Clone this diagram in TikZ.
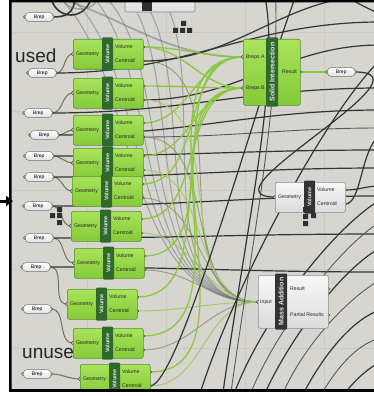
\documentclass[tikz,border=0pt]{standalone}
\usepackage{fontspec}
\setmainfont{Liberation Sans}
\usepackage{xcolor}
\usepackage{tikz}
\usetikzlibrary{arrows.meta, backgrounds}

\pgfdeclarelayer{canvas}
\pgfsetlayers{canvas,background,main}

\definecolor{canvasc}{HTML}{D6D5D0}
\definecolor{gridc}{HTML}{CBCAC4}
\definecolor{gtop}{HTML}{A8E35C}
\definecolor{gbot}{HTML}{84CA38}
\definecolor{gedge}{HTML}{5B8E2C}
\definecolor{gbarc}{HTML}{2F6A2C}
\definecolor{wirec}{HTML}{343434}
\definecolor{selc}{HTML}{8CC83F}
\definecolor{olivec}{HTML}{6E7452}

% volume component: name, x, y (top left), scheme g/w
\newcommand{\volcomp}[4]{%
  \begin{scope}[shift={(#2,#3)}]
    \coordinate (#1-in) at (0,15);
    \coordinate (#1-vol) at (70,8);
    \coordinate (#1-cen) at (70,22);
    \draw[grip] (#1-in) circle (1.8pt) (#1-vol) circle (1.8pt) (#1-cen) circle (1.8pt);
    \node[#4body, minimum width=70pt, minimum height=30pt, anchor=north west] (#1) at (0,0) {};
    \fill[#4bar, rounded corners=1pt] (29,-1.5) rectangle (40,31.5);
    \node[barlabel, rotate=90] (#1-lb) at (34.5,15) {Volume};
    \node[plabel] (#1-lg) at (14.5,15) {Geometry};
    \node[plabel, anchor=west] (#1-lv) at (42,8) {Volume};
    \node[plabel, anchor=west] (#1-lc) at (42,22) {Centroid};
  \end{scope}}

% brep parameter: name, left x, mid y
\newcommand{\brepparam}[3]{%
  \coordinate (#1-i) at (#2,#3);
  \coordinate (#1-o) at (#2+28,#3);
  \draw[grip] (#1-i) circle (1.6pt) (#1-o) circle (1.6pt);
  \node[brepbox, anchor=west] (#1) at (#2,#3) {Brep};}

\begin{document}
\begin{tikzpicture}[x=1pt, y=-1pt,
    grip/.style={draw=black!75, fill=canvasc, line width=0.5pt},
    gbody/.style={draw=gedge, line width=0.6pt, rounded corners=2pt, top color=gtop, bottom color=gbot},
    gbar/.style={fill=gbarc},
    wbody/.style={draw=black!45, line width=0.6pt, rounded corners=2pt, top color=white!97!black, bottom color=white!86!black},
    wbar/.style={fill=black!80},
    barlabel/.style={text=white!90!black, font=\fontsize{5.5}{6}\selectfont\bfseries, inner sep=0pt},
    plabel/.style={font=\fontsize{5.2}{6}\selectfont, text=black!85, inner sep=0pt},
    brepbox/.style={draw=black!55, line width=0.5pt, rounded corners=4pt, top color=white, bottom color=black!12,
      minimum width=28pt, minimum height=9pt, inner sep=0pt, font=\fontsize{5}{6}\selectfont},
    bigtext/.style={font=\fontsize{19}{22}\selectfont, text=black!85, inner sep=0pt},
    knob/.style={fill=black!82},
    gridline/.style={draw=gridc, line width=0.6pt},
    wire/.style={draw=wirec, line width=1.2pt},
    thinwire/.style={draw=black!65, line width=0.9pt},
    selwire/.style={draw=selc, line width=1.3pt},
    paleselwire/.style={draw=selc!70!canvasc, line width=1pt},
    mwire/.style={draw=olivec, line width=0.9pt, opacity=0.6},
    ghost/.style={draw=black!55, line width=1pt, opacity=0.55},
    shortwire/.style={draw=olivec, line width=1pt}]
\useasboundingbox (0,0) rectangle (374,396);

\begin{pgfonlayer}{canvas}
  \fill[white] (0,0) rectangle (374,396);
  \fill[canvasc] (11,2) rectangle (374,390);
  \draw[gridline] (87,2) -- (87,390) (166,2) -- (166,390) (245,2) -- (245,390) (324,2) -- (324,390)
    (11,32) -- (374,32) (11,111) -- (374,111) (11,190) -- (374,190) (11,269) -- (374,269) (11,348) -- (374,348);
\end{pgfonlayer}

% group labels
\node[bigtext, anchor=base west] (used) at (15,63) {used};
\node[bigtext, anchor=base west] (unused) at (22,358) {unused};

% brep parameters
\brepparam{b1}{25}{17}
\brepparam{b2}{28}{73}
\brepparam{b3}{24}{113}
\brepparam{b4}{30}{135}
\brepparam{b5}{25}{156}
\brepparam{b6}{25}{177}
\brepparam{b7}{24}{206}
\brepparam{b8}{25}{238}
\brepparam{b9}{22}{267}
\brepparam{b10}{23}{309}
\brepparam{b11}{23}{374}

% volume components
\volcomp{v1}{73}{39}{g}
\volcomp{v2}{73}{78}{g}
\volcomp{v3}{73}{115}{g}
\volcomp{v4}{73}{148}{g}
\volcomp{v5}{72}{176}{g}
\volcomp{v6}{71}{211}{g}
\volcomp{v7}{74}{248}{g}
\volcomp{v8}{67}{289}{g}
\volcomp{v9}{73}{328}{g}
\volcomp{v10}{80}{364}{g}
\volcomp{wv}{275}{182}{w}

% solid intersection
\begin{scope}[shift={(243,39)}]
  \coordinate (si-a) at (0,18);
  \coordinate (si-b) at (0,49);
  \coordinate (si-r) at (57,33);
  \draw[grip] (si-a) circle (1.8pt) (si-b) circle (1.8pt) (si-r) circle (1.8pt);
  \node[gbody, minimum width=57pt, minimum height=66pt, anchor=north west] (si) at (0,0) {};
  \fill[gbar, rounded corners=1pt] (23,-1.5) rectangle (35,67.5);
  \node[barlabel, font=\fontsize{7}{8}\selectfont\bfseries, rotate=90] (si-lbl) at (29,33) {Solid Intersection};
  \node[plabel, anchor=west] (si-la) at (3,18) {Breps A};
  \node[plabel, anchor=west] (si-lb) at (3,49) {Breps B};
  \node[plabel, anchor=east] (si-lr) at (54,33) {Result};
\end{scope}
\brepparam{bo}{327}{72}

% mass addition
\begin{scope}[shift={(258,275)}]
  \coordinate (ma-in) at (0,27);
  \coordinate (ma-r) at (70,14);
  \coordinate (ma-p) at (70,40);
  \draw[grip] (ma-in) circle (1.8pt) (ma-r) circle (1.8pt) (ma-p) circle (1.8pt);
  \node[wbody, minimum width=70pt, minimum height=53pt, anchor=north west] (ma) at (0,0) {};
  \fill[wbar, rounded corners=1pt] (17,-1.5) rectangle (29,54.5);
  \node[barlabel, font=\fontsize{7}{8}\selectfont\bfseries, rotate=90] (ma-lbl) at (23,26.5) {Mass Addition};
  \node[plabel, anchor=west] (ma-li) at (2,27) {Input};
  \node[plabel, anchor=west] (ma-lr) at (32,14) {Result};
  \node[plabel, anchor=west] (ma-lp) at (32,40) {Partial Results};
\end{scope}

% partly hidden component at the top
\draw[wbody] (125,-8) rectangle (195,12);
\fill[knob] (142,2) rectangle (152,11);

% zoom knobs
\fill[knob] (181,21) rectangle +(5,5) (173,28) rectangle +(5,5) (180,28) rectangle +(5,5) (187,28) rectangle +(5,5);
\fill[knob] (57,207) rectangle +(5,5) (50,213) rectangle +(5,5) (57,213) rectangle +(5,5) (57,220) rectangle +(5,5);
\fill[knob] (303,207) rectangle +(5,5) (303,214) rectangle +(5,5) (303,221) rectangle +(5,5) (311,213) rectangle +(5,5);

% wire ends off the canvas
\coordinate (g0) at (0,-10);
\coordinate (g1) at (-10,-30);
\coordinate (g2) at (10,-25);
\coordinate (g3) at (30,-30);
\coordinate (g4) at (50,-25);
\coordinate (g5) at (70,-30);
\coordinate (g6) at (90,-25);
\coordinate (g7) at (110,-30);
\coordinate (tl1) at (82,-12);
\coordinate (tl2) at (50,-6);
\coordinate (tl3) at (92,-6);
\coordinate (tl4) at (60,-6);
\coordinate (tl5) at (98,-6);
\coordinate (r1) at (380,22);
\coordinate (r2) at (380,88);
\coordinate (r3) at (380,150);
\coordinate (r4) at (380,110);
\coordinate (r5) at (380,168);
\coordinate (r6) at (380,196);
\coordinate (r7) at (380,234);
\coordinate (r8) at (380,272);
\coordinate (r9) at (380,-5);
\coordinate (r10) at (380,45);
\coordinate (r11) at (380,128);
\coordinate (r13) at (380,60);
\coordinate (r14) at (380,200);
\coordinate (r15) at (380,222);
\coordinate (r16) at (380,248);
\coordinate (r17) at (380,280);
\coordinate (r18) at (380,310);
\coordinate (r19) at (380,338);
\coordinate (r20) at (380,362);
\coordinate (r21) at (385,16);
\coordinate (r22) at (380,135);
\coordinate (r23) at (380,186);
\coordinate (t1) at (300,-15);
\coordinate (t2) at (262,-15);
\coordinate (t3) at (275,-15);
\coordinate (tr1) at (330,-12);
\coordinate (bot1) at (222,400);
\coordinate (bot2) at (198,400);
\coordinate (bot3) at (232,400);
\coordinate (bot4) at (248,400);
\coordinate (bot5) at (262,400);
\coordinate (bot6) at (280,400);
\coordinate (bot7) at (300,400);
\coordinate (bot8) at (318,400);
\coordinate (bot9) at (340,400);
\coordinate (bot10) at (230,400);

\begin{pgfonlayer}{background}
\begin{scope}
  \clip (11,2) rectangle (374,390);
  % wires from above
  \draw[ghost, line width=1.6pt] (g0) to[out=0,in=180] (si-a);
  \draw[ghost] (g1) to[out=0,in=180] (ma-in);
  \draw[ghost] (g2) to[out=0,in=180] (ma-in);
  \draw[ghost] (g3) to[out=0,in=180] (ma-in);
  \draw[ghost] (g4) to[out=0,in=180] (ma-in);
  \draw[ghost] (g5) to[out=0,in=180] (ma-in);
  \draw[ghost] (g6) to[out=0,in=180] (ma-in);
  \draw[ghost] (g7) to[out=0,in=180] (ma-in);
  \draw[wire, line width=1.6pt] (b1-o) .. controls (80,17) and (70,0) .. (tl1);
  \draw[wire, line width=1.6pt] (tl2) .. controls (54,22) and (88,22) .. (tl3);
  \draw[ghost, line width=1.4pt] (tl4) .. controls (64,14) and (98,14) .. (tl5);

  % brep -> geometry
  \draw[shortwire] (b2-o) to[out=0,in=180] (v1-in);
  \draw[shortwire] (b3-o) to[out=0,in=180] (v2-in);
  \draw[shortwire] (b4-o) to[out=0,in=180] (v3-in);
  \draw[shortwire] (b5-o) to[out=0,in=180] (v4-in);
  \draw[shortwire] (b6-o) to[out=0,in=180] (v5-in);
  \draw[shortwire] (b7-o) to[out=0,in=180] (v6-in);
  \draw[shortwire] (b8-o) to[out=0,in=180] (v7-in);
  \draw[shortwire] (b9-o) to[out=0,in=180] (v8-in);
  \draw[shortwire] (b10-o) to[out=0,in=180] (v9-in);
  \draw[shortwire] (b11-o) to[out=0,in=180] (v10-in);

  % long wires leaving to the right
  \draw[wire] (b2-o) to[out=0,in=180] (r1);
  \draw[wire] (b3-o) to[out=0,in=180] (r2);
  \draw[wire] (b4-o) to[out=0,in=180] (r4);
  \draw[wire] (b5-o) to[out=0,in=180] (r3);
  \draw[wire] (b6-o) to[out=0,in=180] (r5);
  \draw[wire] (b7-o) to[out=0,in=180] (r6);
  \draw[wire] (b8-o) to[out=0,in=180] (r7);
  \draw[wire] (b9-o) to[out=0,in=180] (r8);
  \draw[wire] (v1-cen) to[out=0,in=180] (r9);
  \draw[wire] (v2-cen) to[out=0,in=180] (r10);
  \draw[thinwire] (v3-cen) to[out=0,in=180] (r11);

  % into mass addition
  \draw[mwire] (v1-cen) to[out=0,in=180] (ma-in);
  \draw[paleselwire] (v2-cen) to[out=0,in=180] (ma-in);
  \draw[mwire] (v3-cen) to[out=0,in=180] (ma-in);
  \draw[paleselwire] (v4-cen) to[out=0,in=180] (ma-in);
  \draw[mwire] (v5-cen) to[out=0,in=180] (ma-in);
  \draw[paleselwire] (v6-cen) to[out=0,in=180] (ma-in);
  \draw[mwire] (v7-cen) to[out=0,in=180] (ma-in);
  \draw[paleselwire] (v8-cen) to[out=0,in=180] (ma-in);
  \draw[mwire] (v9-cen) to[out=0,in=180] (ma-in);
  \draw[paleselwire] (v10-cen) to[out=0,in=180] (ma-in);

  % into solid intersection
  \draw[selwire] (v1-vol) to[out=0,in=180] (si-a);
  \draw[selwire] (v1-vol) to[out=0,in=180] (si-b);
  \draw[selwire] (v2-vol) to[out=0,in=180] (si-b);
  \draw[selwire] (v3-vol) to[out=0,in=180] (si-a);
  \draw[selwire] (v4-vol) to[out=0,in=180] (si-b);
  \draw[selwire] (v5-vol) to[out=0,in=180] (si-a);
  \draw[selwire] (v6-vol) to[out=0,in=180] (si-b);
  \draw[selwire] (v7-vol) to[out=0,in=180] (si-a);
  \draw[selwire] (v8-vol) to[out=0,in=180] (si-b);
  \draw[selwire] (v9-vol) to[out=0,in=180] (si-a);
  \draw[selwire] (v10-vol) to[out=0,in=180] (si-b);
  \draw[selwire, line width=2.2pt] (si-r) -- (bo-i);

  % diagonal wires
  \draw[wire] (v10-cen) .. controls (180,386) and (262,80) .. (t1);
  \draw[wire] (bot1) .. controls (245,230) and (285,60) .. (t2);
  \draw[thinwire] (bot10) .. controls (250,250) and (282,100) .. (t3);
  \draw[wire] (bot2) .. controls (228,300) and (320,120) .. (r13);
  \draw[wire] (bot3) .. controls (255,330) and (330,230) .. (r14);
  \draw[thinwire] (bot4) .. controls (270,340) and (335,250) .. (r15);
  \draw[wire] (bot5) .. controls (285,345) and (340,270) .. (r16);
  \draw[thinwire] (bot6) .. controls (300,350) and (345,300) .. (r17);
  \draw[wire] (bot7) .. controls (320,360) and (350,320) .. (r18);
  \draw[thinwire] (bot8) .. controls (335,370) and (355,345) .. (r19);
  \draw[wire] (bot9) .. controls (350,385) and (365,370) .. (r20);
  \draw[wire] (tr1) .. controls (345,-4) and (365,8) .. (r21);

  % brep result looping back
  \draw[wire] (bo-o) .. controls (440,72) and (195,197) .. (wv-in);
  \draw[wire] (wv-vol) to[out=0,in=180] (r23);
  \draw[wire] (wv-cen) .. controls (362,204) and (360,150) .. (r22);
\end{scope}
\end{pgfonlayer}

% frame and pointer
\fill[black, even odd rule] (9,0) rectangle (374,392) (11.5,2.5) rectangle (374,389);
\fill[white] (0,392) rectangle (374,396);
\coordinate (arrtail) at (0,201);
\coordinate (arrhead) at (13,201);
\draw[-{Triangle[length=7pt,width=10pt]}, line width=3pt] (arrtail) -- (arrhead);
\end{tikzpicture}
\end{document}
